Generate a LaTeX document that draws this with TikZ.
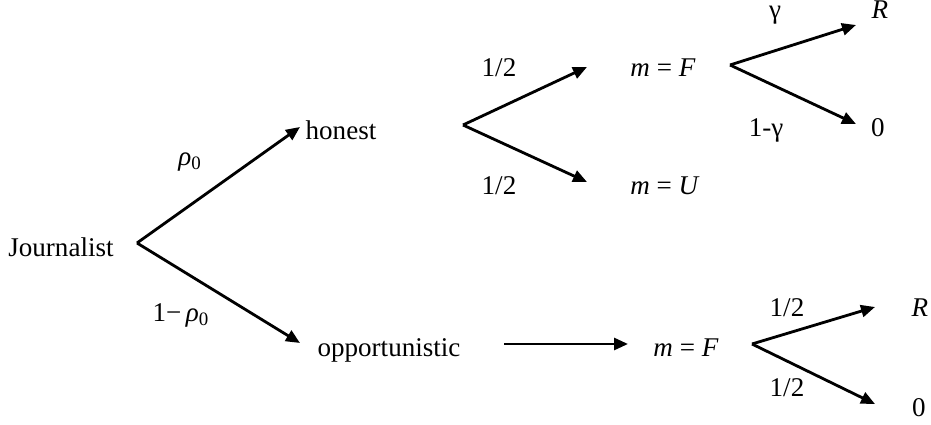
\documentclass[tikz,border=0pt]{standalone}
\usepackage{fontspec}
\setmainfont{Liberation Serif}
\usetikzlibrary{arrows.meta}

\begin{document}
\begin{tikzpicture}[x=0.02cm, y=-0.02cm,
    every node/.style={font=\fontsize{15.4}{18}\selectfont, inner sep=0pt, anchor=base},
    branch/.style={-{Triangle[length=0.28cm, width=0.24cm]}, line width=1.6pt}]
  \useasboundingbox (0,0) rectangle (931,425);
  % players and outcomes
  \node (journ)  at (61,257)  {Journalist};
  \node (honest) at (341,140) {honest};
  \node (oppo)   at (389,357) {opportunistic};
  \node (mF)     at (663,77)  {\textit{m} = \textit{F}};
  \node (mU)     at (665,195) {\textit{m} = \textit{U}};
  \node (mFo)    at (686,357) {\textit{m} = \textit{F}};
  \node[text height=0.66em] (Rh) at (880,19) {\textit{R}};
  \node (zh)     at (878,137) {0};
  \node (Ro)     at (920,317) {\textit{R}};
  \node (zo)     at (919,417) {0};
  % branch probabilities
  \node (prho)   at (190,166) {\textit{ρ}\textsubscript{0}};
  \node (qrho)   at (181,322) {1−\,\textit{ρ}\textsubscript{0}};
  \node (ph1)    at (499,77)  {1/2};
  \node (ph2)    at (499,195) {1/2};
  \node[text height=0.5em] (pg) at (775,19) {γ};
  \node (qg)     at (766,137) {1-γ};
  \node (po1)    at (787,317) {1/2};
  \node (po2)    at (787,397) {1/2};
  % fork points and arrow ends
  \coordinate (r0) at (137,243);
  \coordinate (r1) at (300,127);
  \coordinate (r2) at (300,343);
  \coordinate (h0) at (463,125);
  \coordinate (h1) at (587,67);
  \coordinate (h2) at (587,182);
  \coordinate (f0) at (730,65);
  \coordinate (f1) at (856,25);
  \coordinate (f2) at (856,124);
  \coordinate (o0) at (504,344);
  \coordinate (o1) at (628,344);
  \coordinate (g0) at (752,344);
  \coordinate (g1) at (875,307);
  \coordinate (g2) at (875,404);
  % the tree
  \foreach \a/\b in {r0/r1, r0/r2, h0/h1, h0/h2, f0/f1, f0/f2, o0/o1, g0/g1, g0/g2}
    \draw[branch] (\a) -- (\b);
\end{tikzpicture}
\end{document}
